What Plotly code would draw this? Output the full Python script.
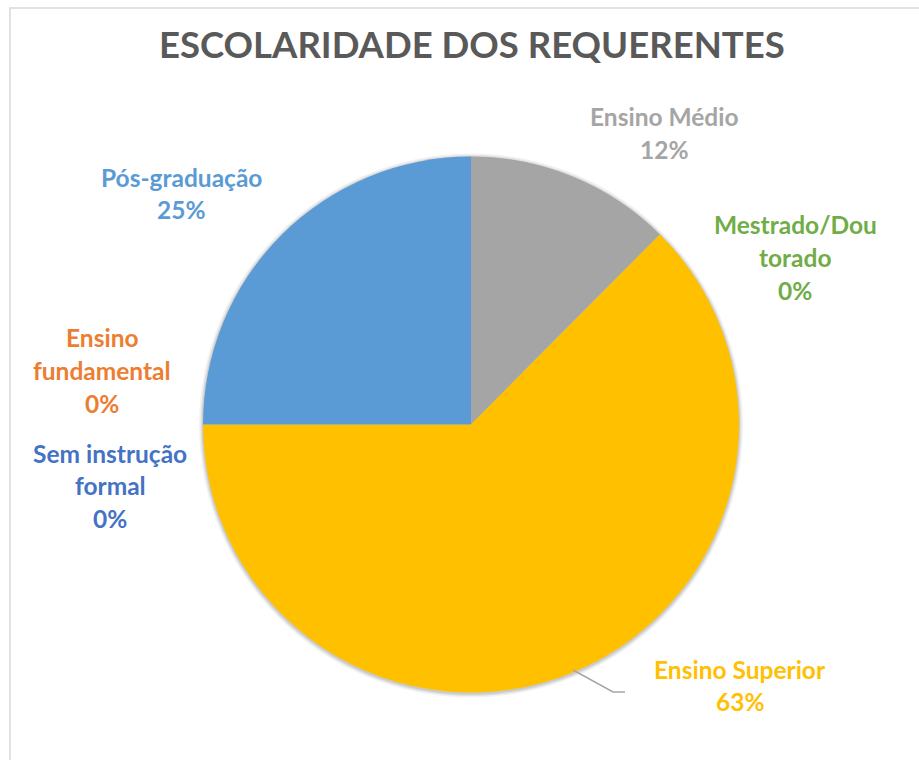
import plotly.graph_objects as go

W, H = 919, 760

# Data (series order as in the source spreadsheet)
categories = ["Sem instrução formal", "Ensino fundamental", "Ensino Médio",
              "Ensino Superior", "Pós-graduação", "Mestrado/Doutorado"]
values = [0.0, 0.0, 12.45, 62.55, 25.0, 0.0]
label_lines = [["Sem instrução", "formal"], ["Ensino", "fundamental"], ["Ensino Médio"],
               ["Ensino Superior"], ["Pós-graduação"], ["Mestrado/Dou", "torado"]]
colors = ["#4472C4", "#ED7D31", "#A5A5A5", "#FFC000", "#5B9BD5", "#70AD47"]

# label placement (pixel centre x, first-line centre y)
label_pos = [(110, 453), (102, 338), (664, 117), (740, 669), (181, 177), (795, 225)]
LINE_H = 32.5
FONT = "Lato"
LABEL_SIZE = 24.5

cx, cy, r = 471, 424.5, 268

def px(x):
    return x / W

def py(y):
    return 1 - y / H

fig = go.Figure()
fig.add_trace(go.Pie(
    labels=categories, values=values, marker=dict(colors=colors, line=dict(width=0)),
    sort=False, direction="clockwise", rotation=0, textinfo="none", hoverinfo="label+percent",
    domain=dict(x=[px(cx - r), px(cx + r)], y=[py(cy + r), py(cy - r)]),
    showlegend=False,
))

total = sum(values)
annotations = []
for lines, v, col, (lx, ly) in zip(label_lines, values, colors, label_pos):
    all_lines = lines + [f"{v / total * 100:.0f}%"]
    for i, t in enumerate(all_lines):
        annotations.append(dict(
            x=px(lx), y=py(ly + i * LINE_H), xref="paper", yref="paper",
            text=f"<b>{t}</b>", showarrow=False, xanchor="center", yanchor="middle",
            font=dict(family=FONT, size=LABEL_SIZE, color=col),
        ))

annotations.append(dict(
    x=px(472), y=py(44), xref="paper", yref="paper", text="<b>ESCOLARIDADE DOS REQUERENTES</b>",
    showarrow=False, xanchor="center", yanchor="middle",
    font=dict(family=FONT, size=36.5, color="#595959"),
))

shapes = []
# soft shadow around the pie
for dr, op in [(4, 0.05), (2.5, 0.07), (1.2, 0.09)]:
    shapes.append(dict(type="circle", xref="paper", yref="paper", layer="below",
                       x0=px(cx - r - dr), x1=px(cx + r + dr), y0=py(cy + r + dr + 1), y1=py(cy - r - dr + 1),
                       fillcolor=f"rgba(0,0,0,{op})", line=dict(width=0)))
# leader line for Ensino Superior
shapes.append(dict(type="path", xref="paper", yref="paper",
                   path=f"M {px(573)},{py(670)} L {px(613)},{py(692)} L {px(625)},{py(692)}",
                   line=dict(color="#A6A6A6", width=1.5)))
# chart frame
shapes.append(dict(type="rect", xref="paper", yref="paper",
                   x0=px(10), x1=px(940), y0=py(790), y1=py(8),
                   line=dict(color="#D9D9D9", width=1.5), fillcolor="rgba(0,0,0,0)"))

fig.update_layout(
    width=W, height=H, margin=dict(l=0, r=0, t=0, b=0),
    paper_bgcolor="white", plot_bgcolor="white",
    annotations=annotations, shapes=shapes,
)
fig.write_html("out.html", config={"displayModeBar": False},
               post_script="document.body.style.margin='0';document.body.style.padding='0';")
